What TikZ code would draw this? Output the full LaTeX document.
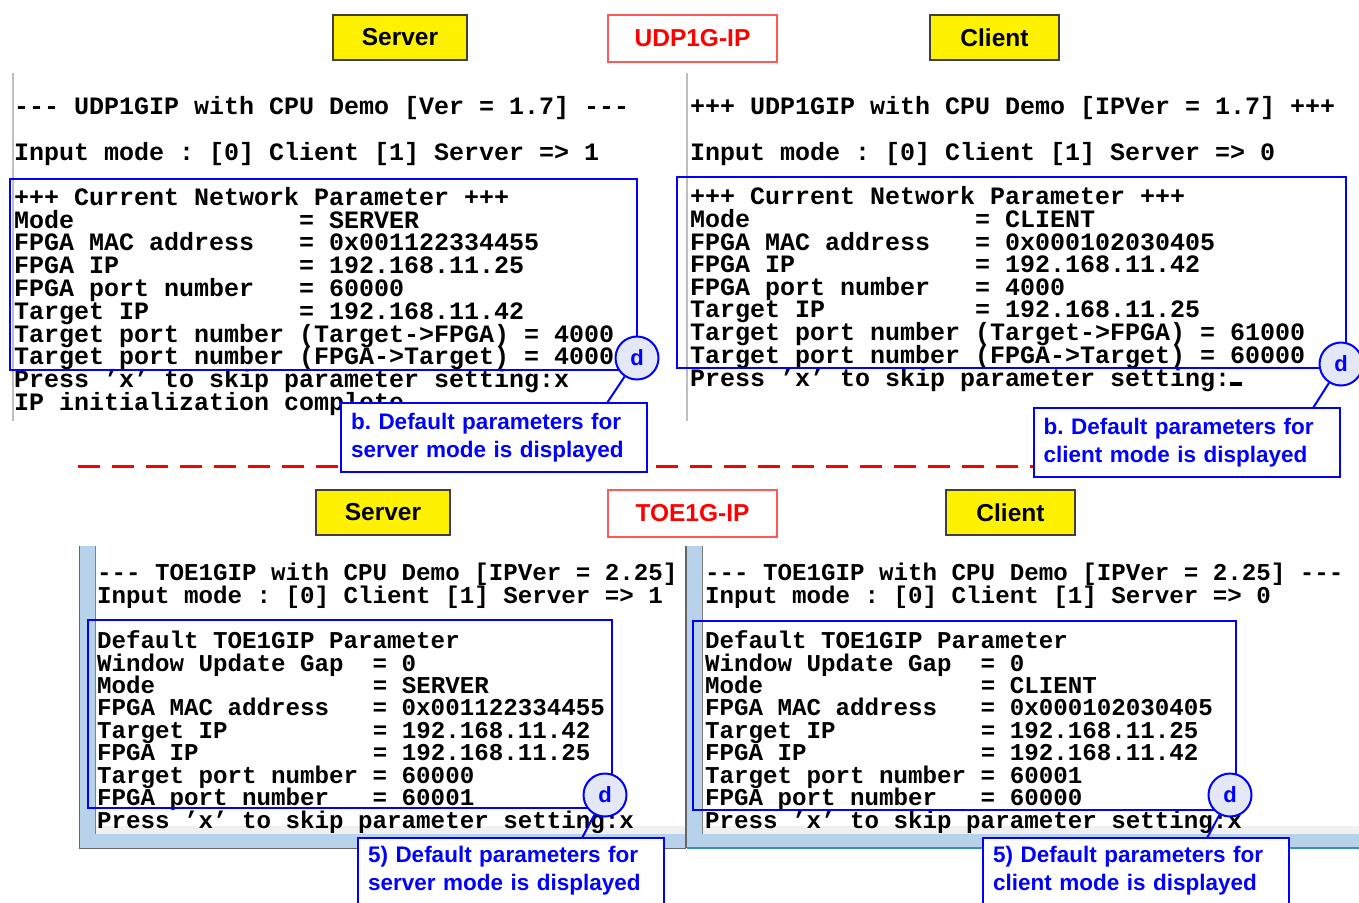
\documentclass[tikz,border=0pt]{standalone}
\usepackage{fontspec}
\setmainfont{Liberation Sans}
\setmonofont{Liberation Mono}
\usetikzlibrary{calc}
\newcommand\sk[1]{\hspace*{#1\dimexpr 0.6em\relax}}
\definecolor{winblue}{RGB}{185,210,236}
\definecolor{circfill}{RGB}{228,232,246}
\definecolor{lblred}{RGB}{255,90,90}
\frenchspacing
\begin{document}
\begin{tikzpicture}[x=1pt,y=-1pt,
  con/.style={anchor=base west, inner sep=0pt, font=\ttfamily\bfseries\fontsize{25}{25}\selectfont},
  conb/.style={anchor=base west, inner sep=0pt, font=\ttfamily\bfseries\fontsize{24.17}{24}\selectfont},
  ylabel/.style={draw=black!75, line width=1.2pt, fill=yellow, minimum height=45, inner sep=0pt, font=\bfseries\fontsize{24.5}{24}\selectfont},
  rlabel/.style={draw=lblred, line width=1.2pt, fill=white, text=red, minimum width=169, minimum height=47, inner sep=0pt, font=\bfseries\fontsize{24.5}{24}\selectfont},
  pbox/.style={draw=blue, line width=2pt},
  callout/.style={draw=blue, line width=2pt, fill=white, text=blue, minimum width=306, text width=286, inner xsep=10pt, inner ysep=0pt, align=left, font=\bfseries\fontsize{22.5}{28}\selectfont},
  dcirc/.style={circle, draw=blue, line width=2pt, fill=circfill, text=blue, minimum size=43, inner sep=0pt, font=\bfseries\fontsize{22}{22}\selectfont},
  conn/.style={draw=blue, line width=2pt},
  sep/.style={draw=red, line width=3pt, dash pattern=on 22pt off 12pt}
]
\clip (0,0) rectangle (1359,902);
\fill[white] (0,0) rectangle (1359,902);

% ---------- bottom console windows ----------
\fill[winblue] (79,546) rectangle (686,848);
\fill[black!6] (95,546) rectangle (685,834);
\fill[white] (95,546) rectangle (685,826);
\draw[black!60, line width=1pt] (79,546) -- (79,848) -- (686,848);
\draw[black!50, line width=1pt] (95,546) -- (95,834);
\fill[winblue] (686,546) rectangle (1359,848);
\fill[black!6] (703,546) rectangle (1359,834);
\fill[white] (703,546) rectangle (1359,826);
\draw[black!60, line width=1.2pt] (686,546) -- (686,848);
\draw[black!50, line width=1pt] (702,546) -- (702,834);
\draw[cyan!70!black, line width=1.2pt] (687,848) -- (1359,848);

% ---------- top console borders ----------
\draw[black!25, line width=1.5pt] (13,73) -- (13,421);
\draw[black!25, line width=1.5pt] (687,73) -- (687,421);

% ---------- labels ----------
\node[ylabel, minimum width=134] (srvA) at (400,37.5) {Server};
\node[rlabel] (udp) at (692.5,38.5) {UDP1G-IP};
\node[ylabel, minimum width=129] (cliA) at (994.5,37.5) {Client};
\node[ylabel, minimum width=134] (srvB) at (383,512.5) {Server};
\node[rlabel] (toe) at (692.5,513.5) {TOE1G-IP};
\node[ylabel, minimum width=129] (cliB) at (1010.5,512.5) {Client};

% ---------- top-left console ----------
\node[con] (a1) at (14,114) {--- UDP1GIP with CPU Demo [Ver = 1.7] ---};
\node[con] (a2) at (14,160) {Input mode : [0] Client [1] Server => 1};
\node[con] (a3) at (14,205) {+++ Current Network Parameter +++};
\node[con] (a4) at (14,228) {Mode\sk{15}= SERVER};
\node[con] (a5) at (14,250) {FPGA MAC address\sk{3}= 0x001122334455};
\node[con] (a6) at (14,273) {FPGA IP\sk{12}= 192.168.11.25};
\node[con] (a7) at (14,296) {FPGA port number\sk{3}= 60000};
\node[con] (a8) at (14,319) {Target IP\sk{10}= 192.168.11.42};
\node[con] (a9) at (14,342) {Target port number (Target->FPGA) = 4000};
\node[con] (a10) at (14,364) {Target port number (FPGA->Target) = 4000};
\node[con] (a11) at (14,387) {Press ’x’ to skip parameter setting:x};
\node[con] (a12) at (14,410) {IP initialization complete};
\draw[pbox] (10,179) rectangle (637,370);

% ---------- top-right console ----------
\node[con] (b1) at (690,114) {+++ UDP1GIP with CPU Demo [IPVer = 1.7] +++};
\node[con] (b2) at (690,160) {Input mode : [0] Client [1] Server => 0};
\node[con] (b3) at (690,204) {+++ Current Network Parameter +++};
\node[con] (b4) at (690,227) {Mode\sk{15}= CLIENT};
\node[con] (b5) at (690,250) {FPGA MAC address\sk{3}= 0x000102030405};
\node[con] (b6) at (690,272) {FPGA IP\sk{12}= 192.168.11.42};
\node[con] (b7) at (690,295) {FPGA port number\sk{3}= 4000};
\node[con] (b8) at (690,317) {Target IP\sk{10}= 192.168.11.25};
\node[con] (b9) at (690,340) {Target port number (Target->FPGA) = 61000};
\node[con] (b10) at (690,363) {Target port number (FPGA->Target) = 60000};
\node[con] (b11) at (690,386) {Press ’x’ to skip parameter setting:\rule{12pt}{4pt}};
\draw[pbox] (677,177) rectangle (1346,368);

% ---------- bottom-left console ----------
\node[conb] (c1) at (97,580) {--- TOE1GIP with CPU Demo [IPVer = 2.25]};
\node[conb] (c2) at (97,603) {Input mode : [0] Client [1] Server => 1};
\node[conb] (c3) at (97,648) {Default TOE1GIP Parameter};
\node[conb] (c4) at (97,671) {Window Update Gap\sk{2}= 0};
\node[conb] (c5) at (97,693) {Mode\sk{15}= SERVER};
\node[conb] (c6) at (97,715) {FPGA MAC address\sk{3}= 0x001122334455};
\node[conb] (c7) at (97,738) {Target IP\sk{10}= 192.168.11.42};
\node[conb] (c8) at (97,760) {FPGA IP\sk{12}= 192.168.11.25};
\node[conb] (c9) at (97,783) {Target port number = 60000};
\node[conb] (c10) at (97,805) {FPGA port number\sk{3}= 60001};
\node[conb] (c11) at (97,828) {Press ’x’ to skip parameter setting:x};
\draw[pbox] (88,620) rectangle (612,808);

% ---------- bottom-right console ----------
\node[conb] (e1) at (705,580) {--- TOE1GIP with CPU Demo [IPVer = 2.25] ---};
\node[conb] (e2) at (705,603) {Input mode : [0] Client [1] Server => 0};
\node[conb] (e3) at (705,648) {Default TOE1GIP Parameter};
\node[conb] (e4) at (705,671) {Window Update Gap\sk{2}= 0};
\node[conb] (e5) at (705,693) {Mode\sk{15}= CLIENT};
\node[conb] (e6) at (705,715) {FPGA MAC address\sk{3}= 0x000102030405};
\node[conb] (e7) at (705,738) {Target IP\sk{10}= 192.168.11.25};
\node[conb] (e8) at (705,760) {FPGA IP\sk{12}= 192.168.11.42};
\node[conb] (e9) at (705,783) {Target port number = 60001};
\node[conb] (e10) at (705,805) {FPGA port number\sk{3}= 60000};
\node[conb] (e11) at (705,828) {Press ’x’ to skip parameter setting:x};
\draw[pbox] (693,621) rectangle (1236,810);

% ---------- separator ----------
\coordinate (sepL) at (78,466);
\coordinate (sepR) at (1033,466);
\draw[sep] (sepL) -- (sepR);

% ---------- callouts ----------
\node[callout, minimum height=69] (cb1) at (494,437.5) {b. Default parameters for\\server mode is displayed};
\node[callout, minimum height=69] (cb2) at (1186.5,442.5) {b. Default parameters for\\client mode is displayed};
\node[callout, minimum height=66] (cb3) at (511,871) {5) Default parameters for\\server mode is displayed};
\node[callout, minimum height=66] (cb4) at (1136,871) {5) Default parameters for\\client mode is displayed};

\node[dcirc] (cd1) at (637,358) {d};
\node[dcirc] (cd2) at (1341,364) {d};
\node[dcirc] (cd3) at (605,795) {d};
\node[dcirc] (cd4) at (1230,795) {d};

\coordinate (cb1t) at (607,403);
\coordinate (cb2t) at (1313,408);
\coordinate (cb3t) at (582,838);
\coordinate (cb4t) at (1207,838);
\draw[conn] (cd1) -- (cb1t);
\draw[conn] (cd2) -- (cb2t);
\draw[conn] (cd3) -- (cb3t);
\draw[conn] (cd4) -- (cb4t);
\end{tikzpicture}
\end{document}
